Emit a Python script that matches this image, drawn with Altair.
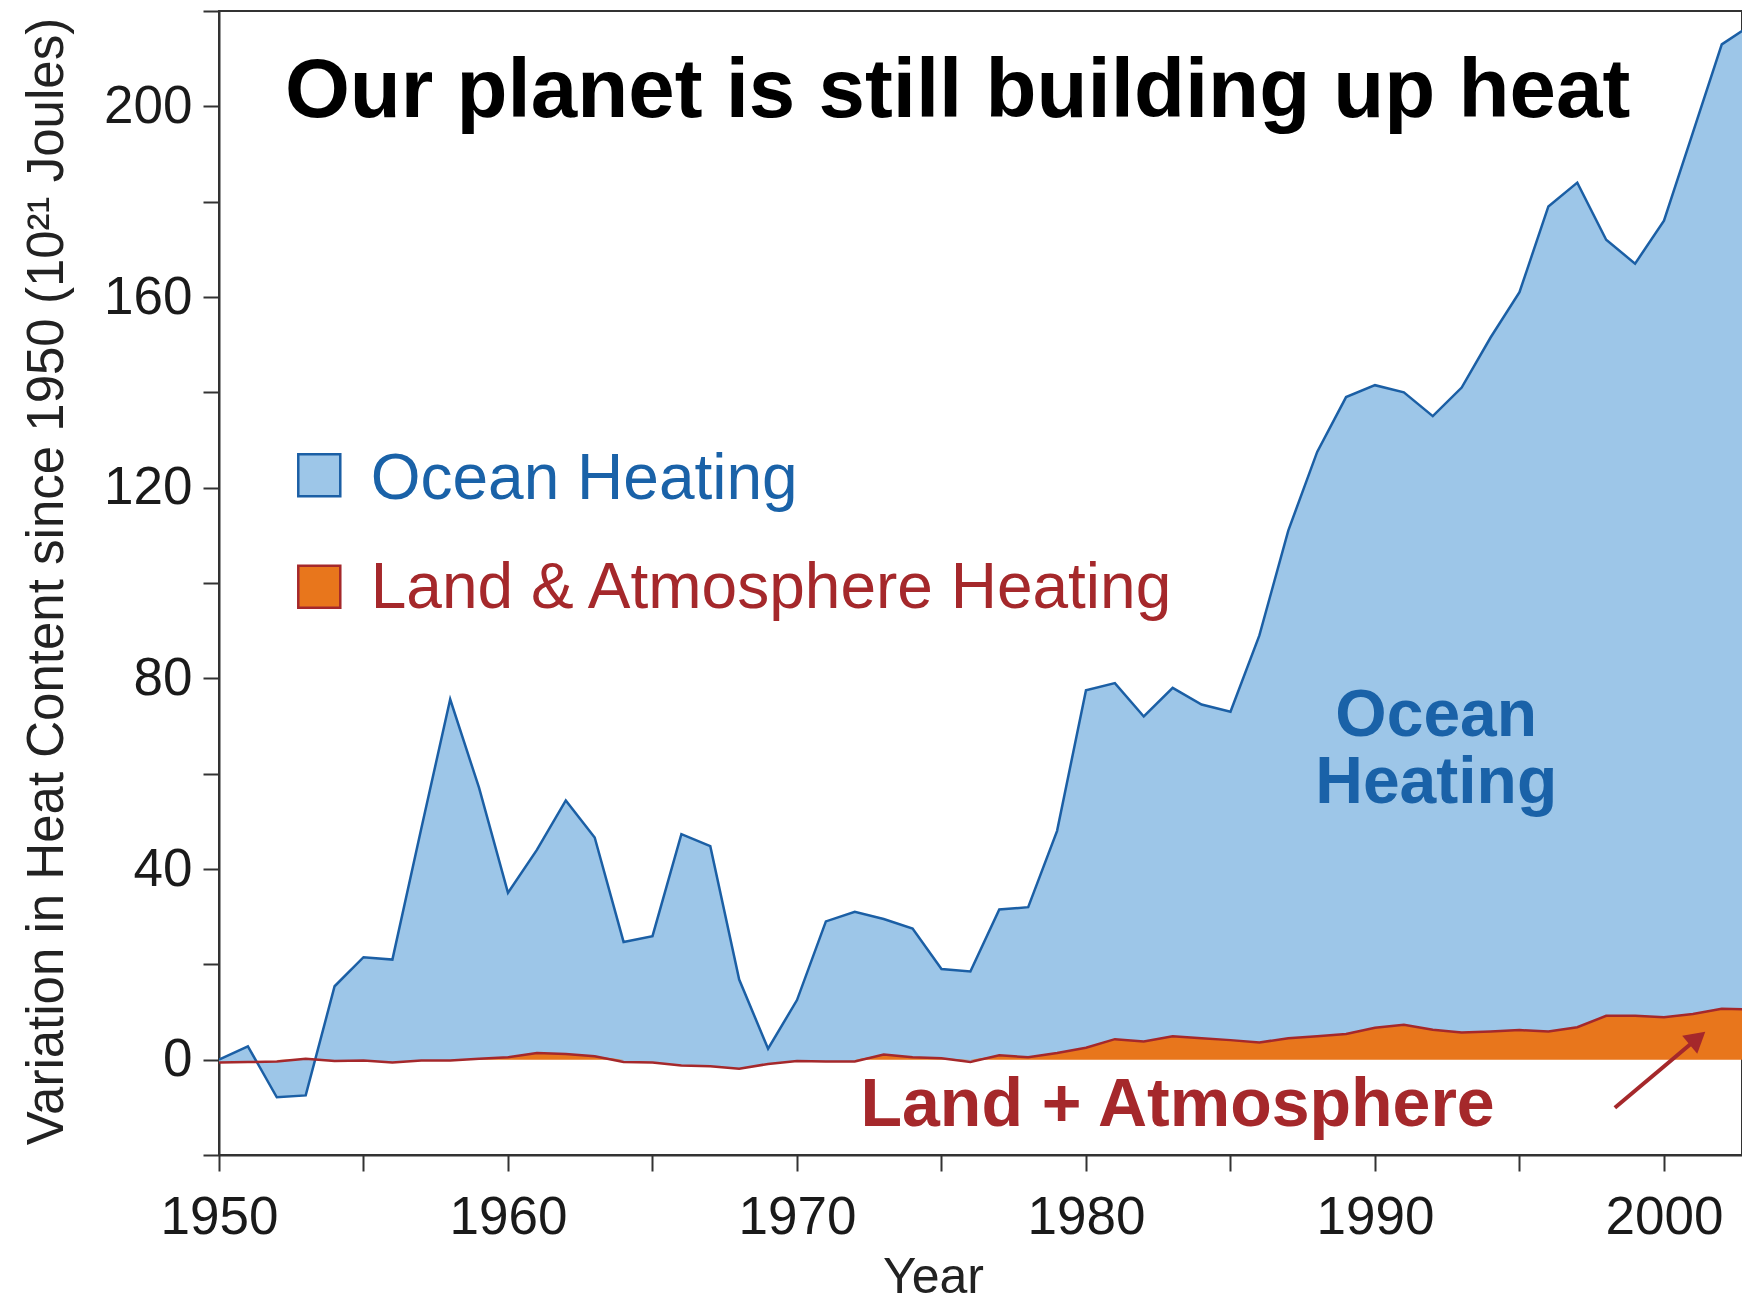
import altair as alt
import pandas as pd

FONT = "Liberation Sans"

years = list(range(1950, 2004))
ocean = [0.0, 2.8, -7.9, -7.5, 15.4, 21.5, 21.0, 48.5, 75.6, 57.0,
         35.0, 44.0, 54.4, 46.6, 24.7, 25.9, 47.3, 44.8, 16.8, 2.3,
         12.5, 29.0, 31.0, 29.5, 27.5, 19.0, 18.5, 31.5, 32.0, 48.0,
         77.5, 79.0, 72.0, 78.0, 74.5, 73.0, 89.0, 111.0, 127.5, 139.0,
         141.5, 140.0, 135.0, 141.0, 151.5, 161.0, 179.0, 184.0, 172.0, 167.0,
         176.0, 194.5, 213.0, 217.0]
land = [-0.6, -0.5, -0.4, 0.2, -0.3, -0.2, -0.6, -0.2, -0.2, 0.2,
        0.5, 1.4, 1.2, 0.7, -0.5, -0.6, -1.2, -1.4, -1.9, -0.9,
        -0.3, -0.4, -0.4, 1.1, 0.5, 0.3, -0.5, 0.9, 0.5, 1.4,
        2.5, 4.3, 3.8, 4.9, 4.5, 4.1, 3.6, 4.5, 4.9, 5.4,
        6.7, 7.3, 6.3, 5.7, 5.9, 6.2, 5.9, 6.8, 9.2, 9.2,
        8.9, 9.6, 10.7, 10.5]

title_text = "Our planet is still building up heat"
legend_labels = ["Ocean Heating", "Land & Atmosphere Heating"]
ocean_label = ["Ocean", "Heating"]
land_label = "Land + Atmosphere"
x_title = "Year"
y_title = "Variation in Heat Content since 1950 (10\u00b2\u00b9 Joules)"

BLUE_FILL = "#9dc6e8"
BLUE_LINE = "#1b5fa5"
BLUE_TEXT = "#1a62a8"
ORANGE = "#e8761c"
RED = "#a5282b"

df = pd.DataFrame({"year": years, "ocean": ocean, "land": land})
one = alt.Data(values=[{}])

xscale = alt.Scale(domain=[1950, 2002.7], nice=False, zero=False)
yscale = alt.Scale(domain=[-20, 220], nice=False, zero=False)

x_axis = alt.Axis(
    values=list(range(1950, 2001, 5)), format="d",
    labelExpr="datum.value % 10 == 0 ? datum.label : ''",
    labelFlush=False, labelOverlap=False, labelBaseline="alphabetic",
    labelPadding=62, labelFontSize=53, titleX=714, titleY=137,
    titleBaseline="alphabetic", titleFontSize=50,
)
y_axis = alt.Axis(
    values=list(range(-20, 221, 20)),
    labelExpr="datum.value >= 0 && datum.value % 40 == 0 ? datum.label : ''",
    labelOverlap=False, labelPadding=11, labelFontSize=53, titleX=-157, titleY=570,
    titleBaseline="alphabetic", titleAlign="center", titleFontSize=51,
)

X = alt.X("year:Q", scale=xscale, axis=x_axis, title=x_title)

ocean_area = alt.Chart(df).mark_area(
    color=BLUE_FILL, opacity=1, clip=True,
    line=alt.OverlayMarkDef(color=BLUE_LINE, strokeWidth=2.5, clip=True),
).encode(
    x=X,
    y=alt.Y("ocean:Q", scale=yscale, axis=y_axis, title=y_title),
    y2=alt.Y2("land:Q"),
)

land_area = alt.Chart(df).transform_calculate(
    landpos="max(datum.land, 0)"
).mark_area(color=ORANGE, opacity=1, clip=True).encode(
    x=X,
    y=alt.Y("landpos:Q", scale=yscale, axis=y_axis, title=y_title),
    y2=alt.datum(0),
)

land_line = alt.Chart(df).mark_line(color=RED, strokeWidth=2.5, clip=True).encode(
    x=X,
    y=alt.Y("land:Q", scale=yscale, axis=y_axis, title=y_title),
)

def txt(text, xv, yv, size, color, weight="normal", align="left", lh=None):
    kw = dict(text=text, align=align, baseline="alphabetic", font=FONT,
              fontSize=size, fontWeight=weight, color=color)
    if lh:
        kw["lineHeight"] = lh
    return alt.Chart(one).mark_text(**kw).encode(
        x=alt.datum(xv, type="quantitative"), y=alt.datum(yv, type="quantitative"))

title = txt(title_text, 1952.28, 197.7, 83.5, "#000000", weight="bold")
leg1 = txt(legend_labels[0], 1955.25, 117.7, 64, BLUE_TEXT)
leg2 = txt(legend_labels[1], 1955.25, 94.7, 64, RED)
oc_lab = txt(ocean_label, 1992.12, 67.8, 66, BLUE_TEXT, weight="bold", align="center", lh=67)
la_lab = txt(land_label, 1983.17, -14.0, 68, RED, weight="bold", align="center")

sq1 = alt.Chart(one).mark_square(size=1764, fill=BLUE_FILL, stroke=BLUE_LINE,
                                 strokeWidth=2.5, opacity=1).encode(
    x=alt.datum(1953.47, type="quantitative"), y=alt.datum(122.6, type="quantitative"))
sq2 = alt.Chart(one).mark_square(size=1764, fill=ORANGE, stroke=RED,
                                 strokeWidth=2.5, opacity=1).encode(
    x=alt.datum(1953.47, type="quantitative"), y=alt.datum(99.2, type="quantitative"))

arrow_line = alt.Chart(one).mark_rule(color=RED, strokeWidth=4).encode(
    x=alt.datum(1998.3, type="quantitative"), y=alt.datum(-10.1, type="quantitative"),
    x2=alt.datum(2001.16), y2=alt.datum(4.5))
arrow_head = alt.Chart(one).mark_point(shape="triangle-up", filled=True, size=550,
                                       angle=50, color=RED, opacity=1).encode(
    x=alt.datum(2001.16, type="quantitative"), y=alt.datum(4.5, type="quantitative"))

chart = alt.layer(
    ocean_area, land_area, land_line, title, leg1, leg2, sq1, sq2, oc_lab, la_lab,
    arrow_line, arrow_head,
).properties(
    width=1523, height=1144,
    autosize=alt.AutoSizeParams(type="none"),
    padding={"left": 211, "top": 3, "right": 0, "bottom": 149},
).configure_view(
    stroke="#333333", strokeWidth=2,
).configure_axis(
    domainColor="#333333", domainWidth=2, tickColor="#333333", tickWidth=2,
    tickSize=16, labelFont=FONT, labelFontSize=52, labelColor="#1a1a1a",
    titleFont=FONT, titleColor="#222222", titleFontWeight="normal", grid=False,
)

chart.save("out.html", embed_options={"renderer": "svg", "actions": False})
